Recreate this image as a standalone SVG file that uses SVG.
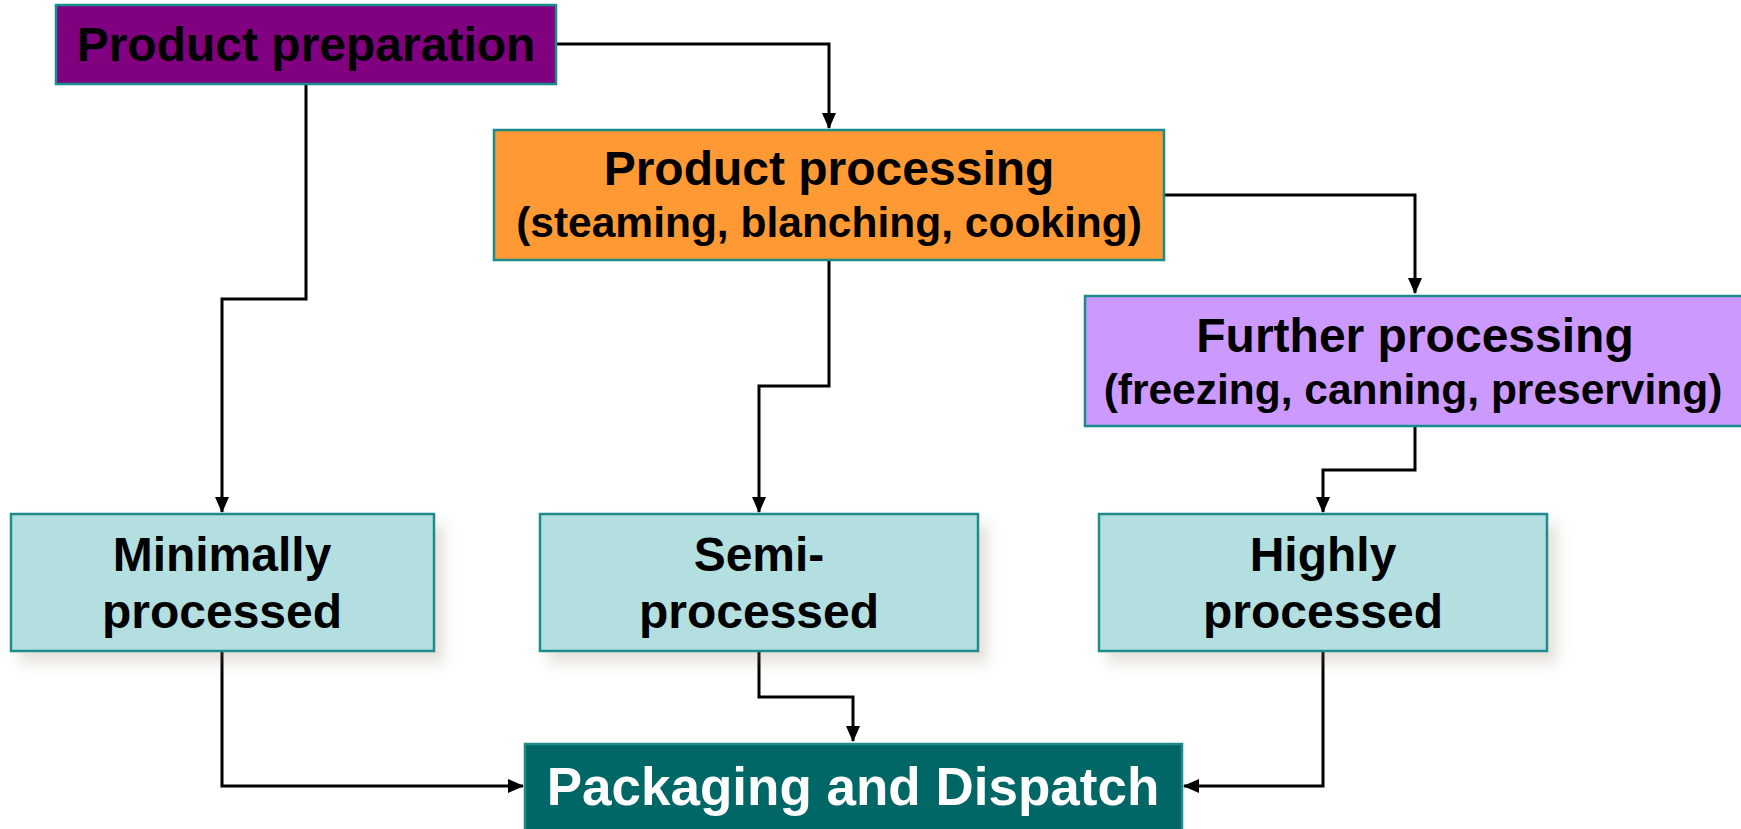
<svg xmlns="http://www.w3.org/2000/svg" width="1741" height="829" viewBox="0 0 1741 829">
  <defs>
    <style>
      .box { stroke: #1a8c8c; stroke-width: 2.5; }
      .t { font-family: "Liberation Sans", Arial, sans-serif; font-weight: bold; text-anchor: middle; fill: #000; }
      .big { font-size: 48px; }
      .small { font-size: 42.5px; }
      .wire { fill: none; stroke: #000; stroke-width: 3; }
    </style>
    <marker id="arrow" markerWidth="16" markerHeight="14" refX="15" refY="7" orient="auto" markerUnits="userSpaceOnUse">
      <path d="M0,0 L16,7 L0,14 Z" fill="#000"/>
    </marker>
    <filter id="soft" x="-10%" y="-10%" width="130%" height="140%">
      <feDropShadow dx="9" dy="11" stdDeviation="7" flood-color="#8a7a5a" flood-opacity="0.22"/>
    </filter>
  </defs>

  <rect width="1741" height="829" fill="#fff"/>

  <!-- connectors -->
  <g id="connectors">
    <path class="wire" d="M556,44 H829 V128" marker-end="url(#arrow)"/>
    <path class="wire" d="M306,84 V299 H222 V512" marker-end="url(#arrow)"/>
    <path class="wire" d="M829,260 V386 H759 V512" marker-end="url(#arrow)"/>
    <path class="wire" d="M1164,195 H1415 V293" marker-end="url(#arrow)"/>
    <path class="wire" d="M1415,426 V470 H1323 V512" marker-end="url(#arrow)"/>
    <path class="wire" d="M222,651 V786 H523" marker-end="url(#arrow)"/>
    <path class="wire" d="M759,651 V697 H853 V741" marker-end="url(#arrow)"/>
    <path class="wire" d="M1323,651 V786 H1184" marker-end="url(#arrow)"/>
  </g>

  <!-- nodes -->
  <g id="product-preparation">
    <rect class="box" x="56" y="5" width="500" height="79" fill="#800080"/>
    <text class="t big" x="306" y="61">Product preparation</text>
  </g>

  <g id="product-processing">
    <rect class="box" x="494" y="130" width="670" height="130" fill="#ff9933"/>
    <text class="t big" x="829" y="185">Product processing</text>
    <text class="t small" x="829" y="237">(steaming, blanching, cooking)</text>
  </g>

  <g id="further-processing">
    <rect class="box" x="1085" y="296" width="660" height="130" fill="#cc99ff"/>
    <text class="t big" x="1415" y="352">Further processing</text>
    <text class="t small" x="1413" y="404">(freezing, canning, preserving)</text>
  </g>

  <g id="minimally-processed">
    <rect class="box" x="11" y="514" width="423" height="137" fill="#b4dfe0" filter="url(#soft)"/>
    <text class="t big" x="222" y="571">Minimally</text>
    <text class="t big" x="222" y="628">processed</text>
  </g>

  <g id="semi-processed">
    <rect class="box" x="540" y="514" width="438" height="137" fill="#b4dfe0" filter="url(#soft)"/>
    <text class="t big" x="759" y="571">Semi-</text>
    <text class="t big" x="759" y="628">processed</text>
  </g>

  <g id="highly-processed">
    <rect class="box" x="1099" y="514" width="448" height="137" fill="#b4dfe0" filter="url(#soft)"/>
    <text class="t big" x="1323" y="571">Highly</text>
    <text class="t big" x="1323" y="628">processed</text>
  </g>

  <g id="packaging-dispatch">
    <rect class="box" x="525" y="744" width="657" height="90" fill="#006666"/>
    <text class="t" x="853" y="805" font-size="53" fill="#fff" style="fill:#fff">Packaging and Dispatch</text>
  </g>
</svg>
